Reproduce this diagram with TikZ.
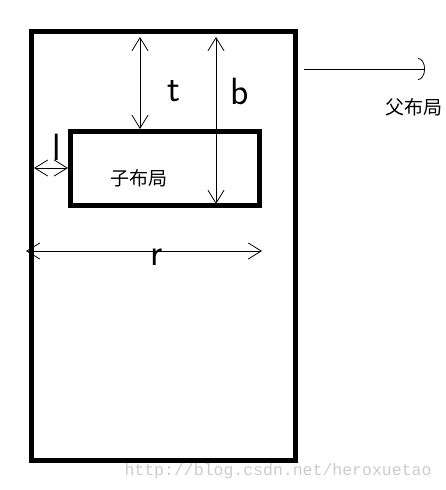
\documentclass[tikz,border=0pt]{standalone}
\usepackage{fontspec}
\usetikzlibrary{arrows.meta}
\newfontfamily\cjkfont{Noto Sans CJK SC}
\newfontfamily\markfont{Liberation Mono}

\begin{document}
\begin{tikzpicture}[
  x=1pt, y=-1pt,
  >={Straight Barb[length=13pt,width=16pt]},
  outerbox/.style={
    draw,
    line width=5pt,
    inner sep=0pt,
    minimum width=264pt,
    minimum height=429pt
  },
  innerbox/.style={outerbox, minimum width=189pt, minimum height=74pt},
  dim/.style={<->, line width=0.8pt},
  pointer/.style={-{Arc Barb[length=7pt,width=22pt]}, line width=0.8pt},
  letter/.style={font=\sffamily\fontsize{38}{38}\selectfont, inner sep=0pt},
  cjk/.style={font=\cjkfont\fontsize{19}{19}\selectfont, inner sep=0pt},
  watermark/.style={font=\markfont\fontsize{16.5}{16.5}\selectfont, text=gray!40, inner sep=0pt}
]
  \useasboundingbox (0,0) rectangle (445,490);

  \node[outerbox] (parent) at (163.5,246) {};
  \node[innerbox] (child) at (165,168.5) {};

  \node[cjk] (childlbl) at (139,178) {子布局};
  \node[cjk] (parentlbl) at (414,107) {父布局};

  \node[letter] (tlbl) at (174,91) {t};
  \node[letter] (blbl) at (240,91) {b};
  \node[letter] (llbl) at (57,147) {l};
  \node[letter] (rlbl) at (157,257) {r};

  \coordinate (ttop) at (140,37);
  \coordinate (btop) at (216,37);
  \coordinate (lleft) at (34,168);
  \coordinate (rleft) at (26,251);
  \coordinate (ptail) at (304,69);
  \coordinate (phead) at (425,69);

  \draw[dim] (ttop) -- (ttop |- child.north);
  \draw[dim] (btop) -- ([yshift=4pt]btop |- child.south);
  \draw[dim] (lleft) -- (lleft -| child.west);
  \draw[dim] (rleft) -- (rleft -| child.east);
  \draw[pointer] (ptail) -- (phead);

  \node[watermark] (mark) at (278,471) {http://blog.csdn.net/heroxuetao};
\end{tikzpicture}
\end{document}
